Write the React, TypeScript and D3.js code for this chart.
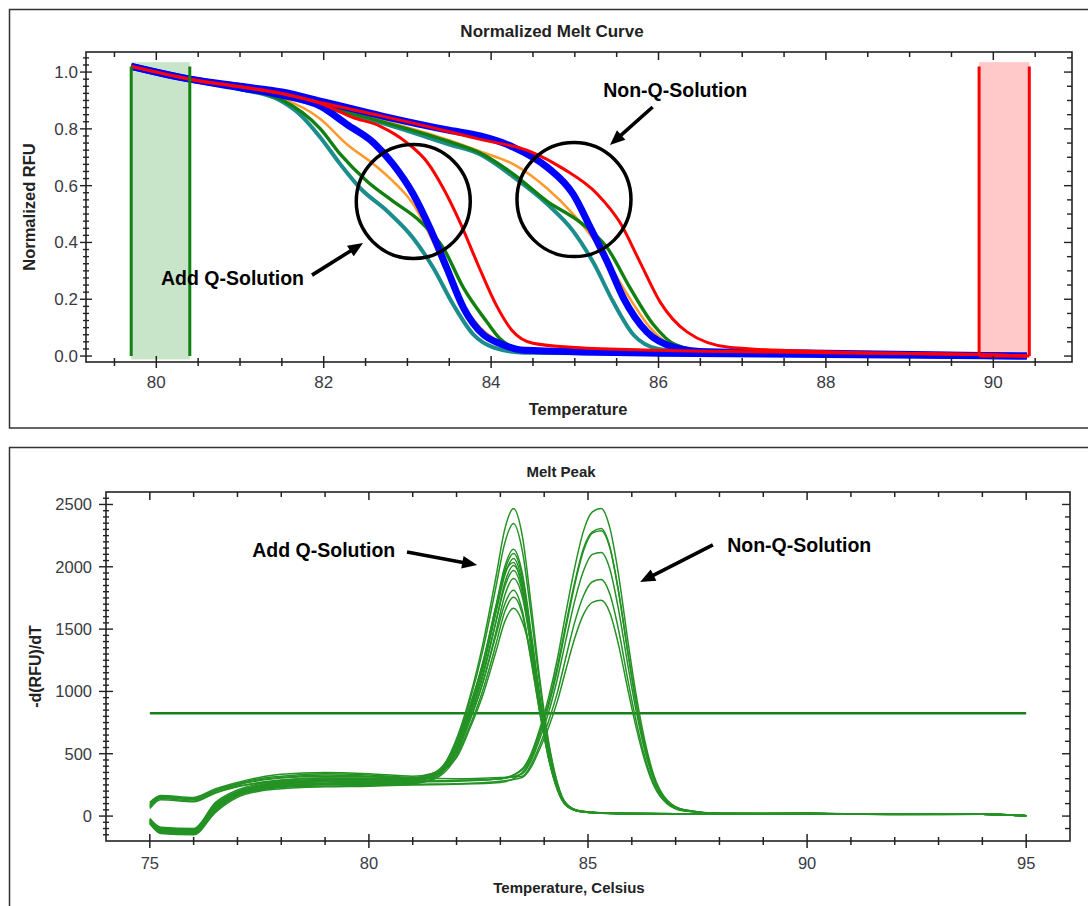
import * as d3 from "d3";

const FONT = "'Liberation Sans', Arial, Helvetica, sans-serif";

// ---------- Normalized Melt Curve (top) ----------
const meltXTicks = [80, 82, 84, 86, 88, 90];
const meltYTicks = [0, 0.2, 0.4, 0.6, 0.8, 1.0];
const greenBand = [79.7, 80.4];
const redBand = [89.83, 90.43];

// [temperature, normalized RFU]
const tealQ = [[79.7, 1.02], [80.4, 0.975], [81, 0.94], [81.48, 0.9], [81.72, 0.85], [81.96, 0.77], [82.2, 0.675], [82.44, 0.59], [82.76, 0.51], [83.07, 0.415], [83.31, 0.31], [83.55, 0.18], [83.79, 0.075], [84.03, 0.03], [84.4, 0.012], [86, 0.008], [88, 0.005], [90.4, 0.0]];
const greenQ = [[79.7, 1.02], [80.4, 0.975], [81, 0.94], [81.48, 0.905], [81.96, 0.8], [82.2, 0.71], [82.52, 0.615], [82.83, 0.545], [83.15, 0.475], [83.43, 0.38], [83.67, 0.24], [83.95, 0.12], [84.1, 0.063], [84.4, 0.02], [85, 0.012], [88, 0.006], [90.4, 0.0]];
const orangeQ = [[79.7, 1.02], [80.4, 0.975], [81, 0.942], [81.48, 0.91], [81.96, 0.835], [82.28, 0.745], [82.6, 0.675], [82.83, 0.615], [83.07, 0.535], [83.31, 0.4], [83.55, 0.24], [83.87, 0.1], [84.1, 0.05], [84.4, 0.015], [86, 0.008], [90.4, 0.0]];
const blueQ = [[79.7, 1.02], [80.4, 0.975], [81, 0.945], [81.48, 0.92], [81.96, 0.88], [82.28, 0.815], [82.6, 0.75], [82.83, 0.675], [83.07, 0.57], [83.27, 0.45], [83.47, 0.31], [83.67, 0.17], [83.91, 0.075], [84.1, 0.045], [84.4, 0.02], [86, 0.01], [90.4, 0.0]];
const redQ = [[79.7, 1.02], [80.4, 0.975], [81, 0.948], [81.48, 0.925], [81.96, 0.89], [82.35, 0.84], [82.67, 0.81], [83.0, 0.75], [83.23, 0.685], [83.43, 0.59], [83.63, 0.47], [83.86, 0.31], [84.06, 0.18], [84.25, 0.09], [84.5, 0.045], [85, 0.03], [86, 0.02], [88, 0.012], [89.8, 0.006], [90.4, 0.0]];
const tealN = [[79.7, 1.02], [80.4, 0.975], [81, 0.943], [81.5, 0.915], [82, 0.878], [82.7, 0.82], [83.5, 0.745], [83.87, 0.71], [84.27, 0.63], [84.67, 0.535], [84.98, 0.44], [85.22, 0.33], [85.46, 0.19], [85.7, 0.075], [86.0, 0.025], [86.5, 0.012], [88, 0.006], [90.4, 0.0]];
const greenN = [[79.7, 1.02], [80.4, 0.975], [81, 0.944], [81.5, 0.917], [82, 0.88], [82.7, 0.825], [83.5, 0.755], [83.87, 0.715], [84.27, 0.64], [84.67, 0.545], [85.07, 0.47], [85.39, 0.38], [85.66, 0.24], [85.94, 0.11], [86.2, 0.04], [86.6, 0.015], [88, 0.008], [90.4, 0.0]];
const orangeN = [[79.7, 1.02], [80.4, 0.975], [81, 0.945], [81.5, 0.92], [82, 0.885], [82.7, 0.83], [83.5, 0.76], [83.87, 0.72], [84.27, 0.675], [84.67, 0.59], [84.98, 0.5], [85.3, 0.38], [85.6, 0.23], [85.9, 0.1], [86.2, 0.03], [86.6, 0.012], [88, 0.008], [90.4, 0.0]];
const blueN = [[79.7, 1.02], [80.4, 0.975], [81, 0.95], [81.5, 0.93], [82, 0.895], [82.7, 0.845], [83.5, 0.795], [83.87, 0.775], [84.27, 0.735], [84.67, 0.665], [84.98, 0.57], [85.19, 0.45], [85.39, 0.33], [85.58, 0.205], [85.86, 0.085], [86.2, 0.03], [86.6, 0.015], [88, 0.01], [90.4, 0.0]];
const redN = [[79.7, 1.02], [80.4, 0.975], [81, 0.948], [81.5, 0.925], [82, 0.89], [82.7, 0.845], [83.5, 0.79], [83.87, 0.763], [84.47, 0.72], [84.86, 0.66], [85.27, 0.57], [85.54, 0.47], [85.78, 0.33], [86.02, 0.19], [86.34, 0.085], [86.86, 0.03], [88, 0.015], [89.8, 0.005], [90.4, 0.0]];

const meltCurves = [
  { pts: orangeQ, color: "#ff9a2e", w: 2.6 },
  { pts: orangeN, color: "#ff9a2e", w: 2.6 },
  { pts: tealQ, color: "#1c8c8c", w: 4 },
  { pts: tealN, color: "#1c8c8c", w: 4 },
  { pts: greenQ, color: "#118011", w: 3.4 },
  { pts: greenN, color: "#118011", w: 3.4 },
  { pts: blueQ, color: "#0000ff", w: 7 },
  { pts: blueN, color: "#0000ff", w: 7 },
  { pts: redQ, color: "#ff0000", w: 3 },
  { pts: redN, color: "#ff0000", w: 3 },
];

const meltCircles = [[83.07, 0.544], [84.99, 0.551]];
const meltNotes = [
  { label: "Add Q-Solution", at: [80.91, 0.275], from: [81.86, 0.285], to: [82.47, 0.398] },
  { label: "Non-Q-Solution", at: [86.2, 0.937], from: [85.93, 0.877], to: [85.42, 0.743] },
];

// ---------- Melt Peak (bottom) ----------
const peakXTicks = [75, 80, 85, 90, 95];
const peakYTicks = [0, 500, 1000, 1500, 2000, 2500];
const peakThreshold = 825;

const qTemps = [75, 75.25, 76, 76.5, 77, 77.5, 78, 79, 80, 81, 81.5, 82, 82.3, 82.6, 82.9, 83.1, 83.3, 83.5, 83.7, 83.9, 84.1, 84.3, 84.5, 84.8, 85.3, 86, 88, 90, 92, 94, 95];
const qRuns = [
  [-30, -100, -110, 90, 190, 240, 270, 290, 295, 290, 330, 620, 950, 1380, 1920, 2300, 2468, 2250, 1700, 1100, 600, 270, 100, 40, 25, 20, 18, 20, 14, 15, 2],
  [100, 160, 140, 210, 260, 300, 320, 340, 330, 310, 350, 600, 920, 1330, 1840, 2190, 2348, 2130, 1620, 1050, 580, 260, 100, 42, 26, 21, 18, 19, 15, 14, 3],
  [-50, -120, -130, 60, 170, 225, 255, 275, 280, 280, 320, 580, 870, 1230, 1690, 2000, 2140, 1950, 1480, 960, 530, 240, 95, 38, 24, 20, 17, 20, 13, 15, 2],
  [-20, -90, -100, 110, 210, 260, 285, 305, 305, 300, 340, 560, 850, 1200, 1660, 1970, 2107, 1920, 1450, 950, 520, 240, 90, 40, 25, 19, 18, 21, 14, 16, 1],
  [80, 150, 130, 200, 250, 285, 305, 320, 315, 300, 340, 540, 830, 1180, 1630, 1930, 2067, 1880, 1430, 930, 510, 235, 90, 39, 24, 20, 17, 19, 14, 15, 2],
  [-60, -135, -145, 40, 160, 210, 235, 250, 255, 260, 310, 600, 880, 1230, 1680, 1950, 2035, 1830, 1360, 880, 470, 210, 85, 37, 23, 19, 18, 20, 13, 14, 3],
  [-40, -110, -120, 80, 185, 235, 260, 280, 285, 285, 320, 520, 790, 1120, 1560, 1870, 2011, 1850, 1420, 940, 530, 250, 100, 42, 26, 21, 18, 20, 15, 15, 2],
  [-55, -130, -140, 50, 165, 215, 240, 255, 260, 265, 300, 540, 810, 1140, 1560, 1840, 1971, 1800, 1370, 900, 500, 230, 90, 38, 24, 20, 17, 19, 14, 14, 2],
  [60, 130, 115, 185, 235, 270, 290, 305, 300, 290, 320, 500, 760, 1070, 1480, 1770, 1907, 1760, 1360, 900, 510, 240, 95, 40, 25, 20, 18, 20, 14, 15, 3],
  [-25, -95, -105, 100, 200, 250, 275, 295, 300, 295, 330, 520, 770, 1070, 1450, 1700, 1811, 1650, 1260, 830, 460, 215, 85, 37, 23, 19, 17, 19, 13, 14, 2],
  [-45, -115, -125, 70, 175, 220, 245, 260, 265, 270, 300, 480, 720, 1010, 1380, 1640, 1755, 1620, 1250, 830, 470, 220, 90, 39, 24, 20, 18, 20, 14, 15, 2],
  [110, 165, 150, 220, 270, 310, 335, 350, 340, 320, 345, 470, 700, 970, 1320, 1560, 1667, 1560, 1300, 870, 490, 230, 95, 41, 25, 21, 18, 20, 15, 14, 3],
];

const nonQTemps = [75, 75.25, 76, 76.5, 77, 77.5, 78, 79, 80, 81, 82, 83, 83.5, 83.7, 83.9, 84.1, 84.3, 84.5, 84.7, 84.9, 85.1, 85.3, 85.5, 85.7, 85.9, 86.1, 86.3, 86.5, 86.8, 87.2, 88, 90, 92, 94, 95];
const nonQRuns = [
  [-35, -105, -115, 85, 180, 230, 250, 265, 270, 275, 280, 300, 380, 500, 700, 950, 1260, 1640, 2000, 2290, 2440, 2468, 2310, 1930, 1430, 970, 600, 330, 130, 50, 22, 20, 15, 14, 2],
  [70, 140, 120, 190, 240, 265, 280, 290, 285, 280, 285, 300, 370, 480, 680, 910, 1200, 1550, 1880, 2150, 2280, 2308, 2160, 1800, 1340, 910, 560, 310, 125, 48, 22, 21, 16, 15, 3],
  [-60, -140, -150, 30, 150, 200, 220, 235, 240, 250, 255, 270, 350, 460, 650, 880, 1170, 1520, 1860, 2130, 2270, 2290, 2150, 1790, 1330, 900, 550, 300, 120, 48, 21, 20, 15, 14, 2],
  [-30, -100, -110, 95, 195, 245, 265, 280, 280, 280, 285, 300, 340, 440, 620, 830, 1100, 1420, 1730, 1970, 2100, 2115, 1980, 1650, 1230, 840, 520, 290, 115, 45, 22, 20, 15, 14, 2],
  [90, 155, 135, 205, 255, 290, 310, 330, 320, 305, 300, 310, 320, 410, 570, 760, 990, 1280, 1560, 1770, 1880, 1899, 1780, 1490, 1110, 760, 470, 260, 105, 42, 21, 21, 14, 15, 3],
  [-50, -125, -135, 55, 165, 210, 230, 240, 245, 255, 260, 280, 310, 390, 540, 710, 920, 1180, 1430, 1620, 1715, 1731, 1630, 1370, 1030, 710, 440, 245, 100, 40, 21, 20, 15, 14, 2],
];

const peakNotes = [
  { label: "Add Q-Solution", at: [78.97, 2135], from: [80.87, 2119], to: [82.47, 2014] },
  { label: "Non-Q-Solution", at: [89.82, 2175], from: [87.85, 2175], to: [86.19, 1878] },
];

// ---------- helpers ----------
function Arrow({ x1, y1, x2, y2 }) {
  const head = 15;
  const dx = x2 - x1;
  const dy = y2 - y1;
  const len = Math.hypot(dx, dy);
  const ux = dx / len;
  const uy = dy / len;
  const bx = x2 - ux * head;
  const by = y2 - uy * head;
  const px = -uy * head * 0.42;
  const py = ux * head * 0.42;
  return (
    <g>
      <line x1={x1} y1={y1} x2={bx + ux * 2} y2={by + uy * 2} stroke="#000" strokeWidth={3.6} />
      <polygon points={`${x2},${y2} ${bx + px},${by + py} ${bx - px},${by - py}`} fill="#000" />
    </g>
  );
}

const isMultiple = (v, step) => Math.abs(v / step - Math.round(v / step)) < 1e-6;

export default function App() {
  // top panel scales
  const tx = d3.scaleLinear().domain([79.16, 90.94]).range([86, 1072]);
  const ty = d3.scaleLinear().domain([-0.021, 1.0707]).range([362, 52]);
  const meltLine = d3
    .line()
    .x((d) => tx(d[0]))
    .y((d) => ty(d[1]))
    .curve(d3.curveMonotoneX);

  // bottom panel scales
  const bx = d3.scaleLinear().domain([74, 96]).range([106, 1070]);
  const by = d3.scaleLinear().domain([-200, 2600]).range([841, 492]);
  const peakLine = d3
    .line()
    .x((d) => bx(d[0]))
    .y((d) => by(d[1]))
    .curve(d3.curveMonotoneX);

  const [tL, tR] = tx.range();
  const [tB, tT] = ty.range();
  const [bL, bR] = bx.range();
  const [bB, bT] = by.range();

  const meltXMinor = d3.range(79.5, 91, 0.5).filter((v) => tx(v) > tL && tx(v) < tR);
  const meltYMinorL = d3.range(0, 44).map((i) => i * 0.025).filter((v) => ty(v) > tT && ty(v) < tB);
  const meltYMinorR = d3.range(0, 22).map((i) => i * 0.05).filter((v) => ty(v) > tT && ty(v) < tB);
  const peakXMinor = d3.range(74, 97, 1).filter((v) => bx(v) > bL && bx(v) < bR);
  const peakYMinorL = d3.range(-200, 2601, 50).filter((v) => by(v) > bT && by(v) < bB);
  const peakYMinorR = d3.range(-200, 2601, 100).filter((v) => by(v) > bT && by(v) < bB);

  const axisStroke = "#222";
  const tickColor = "#3a3a44";

  return (
    <svg
      width={1088}
      height={906}
      style={{ position: "absolute", left: 0, top: 0, background: "#fff" }}
      fontFamily={FONT}
    >
      <rect x={0} y={0} width={1088} height={906} fill="#fff" />

      {/* ===== top panel ===== */}
      <rect x={9.5} y={9.5} width={1100} height={418.5} fill="none" stroke="#333" strokeWidth={1.5} />
      <text x={552} y={31} textAnchor="middle" dy="0.35em" fontSize={17} fontWeight="bold" fill="#222">
        Normalized Melt Curve
      </text>

      {/* melt region bands */}
      <rect
        x={tx(greenBand[0])}
        y={ty(1.035)}
        width={tx(greenBand[1]) - tx(greenBand[0])}
        height={ty(-0.012) - ty(1.035)}
        fill="#c9e5c9"
      />
      <rect
        x={tx(redBand[0])}
        y={ty(1.035)}
        width={tx(redBand[1]) - tx(redBand[0])}
        height={ty(-0.004) - ty(1.035)}
        fill="#ffc9c9"
      />

      {meltCurves.map((c, i) => (
        <path key={i} d={meltLine(c.pts)} fill="none" stroke={c.color} strokeWidth={c.w} />
      ))}

      {greenBand.map((v, i) => (
        <line key={"g" + i} x1={tx(v)} x2={tx(v)} y1={ty(1.02)} y2={ty(0)} stroke="#118011" strokeWidth={3} />
      ))}
      {redBand.map((v, i) => (
        <line key={"r" + i} x1={tx(v)} x2={tx(v)} y1={ty(1.02)} y2={ty(0)} stroke="#ff0000" strokeWidth={3} />
      ))}
      <line x1={tx(redBand[0])} x2={tx(redBand[1])} y1={ty(0)} y2={ty(0)} stroke="#ff0000" strokeWidth={3} />

      {/* top plot frame & ticks */}
      <rect x={tL} y={tT} width={tR - tL} height={tB - tT} fill="none" stroke={axisStroke} strokeWidth={1.6} />
      {meltXMinor.map((v) => {
        const major = isMultiple(v, 2);
        const x = tx(v);
        return (
          <g key={"tx" + v} stroke={axisStroke} strokeWidth={1.5}>
            <line x1={x} x2={x} y1={tB - (major ? 6 : 4)} y2={tB + (major ? 6 : 4)} />
            <line x1={x} x2={x} y1={tT} y2={tT + (major ? 8 : 5)} />
          </g>
        );
      })}
      {meltYMinorL.map((v) => {
        const major = isMultiple(v, 0.2);
        const y = ty(v);
        return <line key={"tyl" + v} x1={tL - (major ? 6 : 3)} x2={tL + (major ? 6 : 3)} y1={y} y2={y} stroke={axisStroke} strokeWidth={1.4} />;
      })}
      {meltYMinorR.map((v) => {
        const major = isMultiple(v, 0.2);
        const y = ty(v);
        return <line key={"tyr" + v} x1={tR - (major ? 8 : 5)} x2={tR} y1={y} y2={y} stroke={axisStroke} strokeWidth={1.4} />;
      })}
      {meltXTicks.map((v) => (
        <text key={"txl" + v} x={tx(v)} y={382} dy="0.35em" textAnchor="middle" fontSize={17} fill={tickColor}>
          {v}
        </text>
      ))}
      {meltYTicks.map((v) => (
        <text key={"tyl" + v} x={78} y={ty(v)} dy="0.35em" textAnchor="end" fontSize={17} fill={tickColor}>
          {d3.format(".1f")(v)}
        </text>
      ))}
      <text x={578} y={409} dy="0.35em" textAnchor="middle" fontSize={16.5} fontWeight="bold" fill="#222">
        Temperature
      </text>
      <text
        transform={`translate(29, ${(tT + tB) / 2}) rotate(-90)`}
        dy="0.35em"
        textAnchor="middle"
        fontSize={16.5}
        fontWeight="bold"
        fill="#222"
      >
        Normalized RFU
      </text>

      {/* annotations */}
      {meltCircles.map((c, i) => (
        <circle key={"c" + i} cx={tx(c[0])} cy={ty(c[1])} r={57} fill="none" stroke="#000" strokeWidth={3.5} />
      ))}
      {meltNotes.map((n, i) => (
        <g key={"mn" + i}>
          <text x={tx(n.at[0])} y={ty(n.at[1])} dy="0.35em" textAnchor="middle" fontSize={19.5} fontWeight="bold" fill="#000">
            {n.label}
          </text>
          <Arrow x1={tx(n.from[0])} y1={ty(n.from[1])} x2={tx(n.to[0])} y2={ty(n.to[1])} />
        </g>
      ))}

      {/* ===== bottom panel ===== */}
      <rect x={9.5} y={447.5} width={1100} height={500} fill="none" stroke="#333" strokeWidth={1.5} />
      <text x={561} y={472} dy="0.35em" textAnchor="middle" fontSize={15} fontWeight="bold" fill="#222">
        Melt Peak
      </text>

      <line
        x1={bx(75)}
        x2={bx(95)}
        y1={by(peakThreshold)}
        y2={by(peakThreshold)}
        stroke="#188018"
        strokeWidth={2.6}
      />
      {qRuns.map((run, i) => (
        <path key={"q" + i} d={peakLine(d3.zip(qTemps, run))} fill="none" stroke="#249224" strokeWidth={1.5} />
      ))}
      {nonQRuns.map((run, i) => (
        <path key={"n" + i} d={peakLine(d3.zip(nonQTemps, run))} fill="none" stroke="#249224" strokeWidth={1.5} />
      ))}

      <rect x={bL} y={bT} width={bR - bL} height={bB - bT} fill="none" stroke={axisStroke} strokeWidth={1.6} />
      {peakXMinor.map((v) => {
        const major = isMultiple(v, 5);
        const x = bx(v);
        return (
          <g key={"bx" + v} stroke={axisStroke} strokeWidth={1.5}>
            <line x1={x} x2={x} y1={bB - (major ? 7 : 4)} y2={bB + (major ? 7 : 4)} />
            <line x1={x} x2={x} y1={bT} y2={bT + (major ? 8 : 5)} />
          </g>
        );
      })}
      {peakYMinorL.map((v) => {
        const major = isMultiple(v, 500);
        const y = by(v);
        return <line key={"byl" + v} x1={bL - (major ? 7 : 3)} x2={bL + (major ? 7 : 3)} y1={y} y2={y} stroke={axisStroke} strokeWidth={1.4} />;
      })}
      {peakYMinorR.map((v) => {
        const major = isMultiple(v, 500);
        const y = by(v);
        return <line key={"byr" + v} x1={bR - (major ? 8 : 5)} x2={bR} y1={y} y2={y} stroke={axisStroke} strokeWidth={1.4} />;
      })}
      {peakXTicks.map((v) => (
        <text key={"bxl" + v} x={bx(v)} y={863} dy="0.35em" textAnchor="middle" fontSize={16.5} fill={tickColor}>
          {v}
        </text>
      ))}
      {peakYTicks.map((v) => (
        <text key={"byl" + v} x={92} y={by(v)} dy="0.35em" textAnchor="end" fontSize={16.5} fill={tickColor}>
          {v}
        </text>
      ))}
      <text x={569} y={888} dy="0.35em" textAnchor="middle" fontSize={15} fontWeight="bold" fill="#222">
        Temperature, Celsius
      </text>
      <text
        transform={`translate(35, ${(bT + bB) / 2}) rotate(-90)`}
        dy="0.35em"
        textAnchor="middle"
        fontSize={16}
        fontWeight="bold"
        fill="#222"
      >
        -d(RFU)/dT
      </text>

      {peakNotes.map((n, i) => (
        <g key={"pn" + i}>
          <text x={bx(n.at[0])} y={by(n.at[1])} dy="0.35em" textAnchor="middle" fontSize={19.5} fontWeight="bold" fill="#000">
            {n.label}
          </text>
          <Arrow x1={bx(n.from[0])} y1={by(n.from[1])} x2={bx(n.to[0])} y2={by(n.to[1])} />
        </g>
      ))}
    </svg>
  );
}
